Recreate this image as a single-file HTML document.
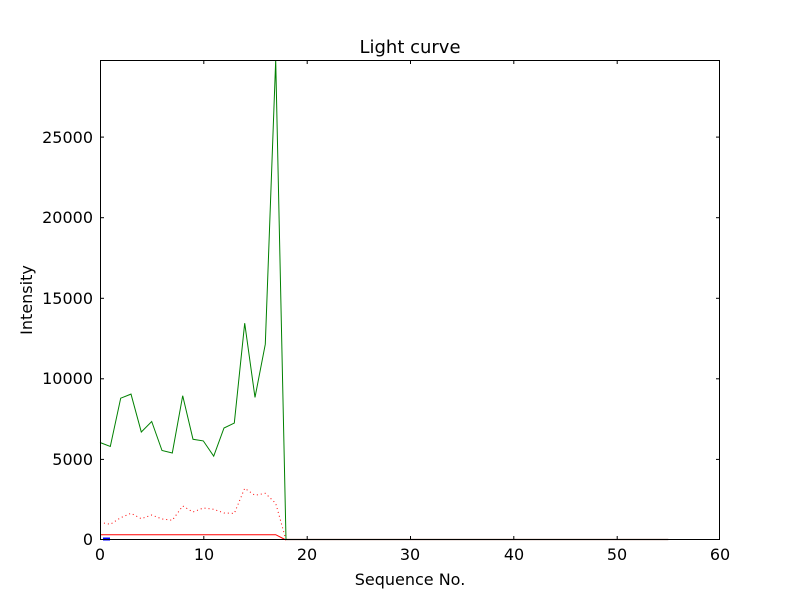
<!DOCTYPE html>
<html><head><meta charset="utf-8"><style>body{margin:0;background:#fff}svg{display:block}text{font-family:"DejaVu Sans","Liberation Sans",sans-serif;fill:#000}</style></head>
<body>
<svg width="800" height="600" viewBox="0 0 800 600" xmlns="http://www.w3.org/2000/svg">
<rect width="800" height="600" fill="#fff"/>
<text x="410" y="53" font-size="18" text-anchor="middle">Light curve</text>
<g fill="none">
<polyline stroke="#ff0000" stroke-width="1" stroke-dasharray="1,3" points="100,522.3 110.3,524.3 120.7,517.7 131,513.3 141.3,518.7 151.7,515 162,519 172.3,520.3 182.7,506 193,512 203.3,508 213.7,509.3 224,513 234.3,513.4 244.7,488.3 255,495.3 265.3,493.3 275.7,503.3 286,540"/>
<polyline stroke="#ff0000" stroke-width="1" points="100,534.7 275.7,534.7 286,540"/>
<polyline stroke="#008000" stroke-width="1" points="100,442.5 110.3,446.5 120.7,398.2 131,394.1 141.3,432 151.7,421.5 162,450.5 172.3,453 182.7,395.7 193,439.3 203.3,440.9 213.7,456.2 224,428 234.3,423.1 244.7,323.2 255,397.4 265.3,344.2 275.7,60 286,540"/>
<line x1="286" y1="539.5" x2="668.3" y2="539.5" stroke="#6b1a00" stroke-width="1.2"/>
<line x1="103" y1="539" x2="110" y2="539" stroke="#0000ff" stroke-width="3"/>
</g>
<rect x="100.5" y="60.5" width="619" height="479" fill="none" stroke="#000" stroke-width="1"/>
<g stroke="#000" stroke-width="1">
<line x1="100.5" y1="540" x2="100.5" y2="536"/><line x1="100.5" y1="60" x2="100.5" y2="64"/>
<line x1="203.8" y1="540" x2="203.8" y2="536"/><line x1="203.8" y1="60" x2="203.8" y2="64"/>
<line x1="307.2" y1="540" x2="307.2" y2="536"/><line x1="307.2" y1="60" x2="307.2" y2="64"/>
<line x1="410.5" y1="540" x2="410.5" y2="536"/><line x1="410.5" y1="60" x2="410.5" y2="64"/>
<line x1="513.8" y1="540" x2="513.8" y2="536"/><line x1="513.8" y1="60" x2="513.8" y2="64"/>
<line x1="617.2" y1="540" x2="617.2" y2="536"/><line x1="617.2" y1="60" x2="617.2" y2="64"/>
<line x1="100" y1="459.4" x2="104" y2="459.4"/><line x1="720" y1="459.4" x2="716" y2="459.4"/>
<line x1="100" y1="378.8" x2="104" y2="378.8"/><line x1="720" y1="378.8" x2="716" y2="378.8"/>
<line x1="100" y1="298.3" x2="104" y2="298.3"/><line x1="720" y1="298.3" x2="716" y2="298.3"/>
<line x1="100" y1="217.7" x2="104" y2="217.7"/><line x1="720" y1="217.7" x2="716" y2="217.7"/>
<line x1="100" y1="137.1" x2="104" y2="137.1"/><line x1="720" y1="137.1" x2="716" y2="137.1"/>
</g>
<g font-size="16" text-anchor="middle">
<text x="100" y="560">0</text><text x="204" y="560">10</text><text x="307" y="560">20</text>
<text x="410" y="560">30</text><text x="514" y="560">40</text><text x="617" y="560">50</text><text x="720" y="560">60</text>
</g>
<g font-size="16" text-anchor="end">
<text x="93" y="545">0</text><text x="93" y="465">5000</text><text x="93" y="384">10000</text>
<text x="93" y="304">15000</text><text x="93" y="223">20000</text><text x="93" y="143">25000</text>
</g>
<text x="410" y="585" font-size="16" text-anchor="middle">Sequence No.</text>
<text transform="translate(32,300) rotate(-90)" font-size="16" text-anchor="middle">Intensity</text>
</svg>
</body></html>
